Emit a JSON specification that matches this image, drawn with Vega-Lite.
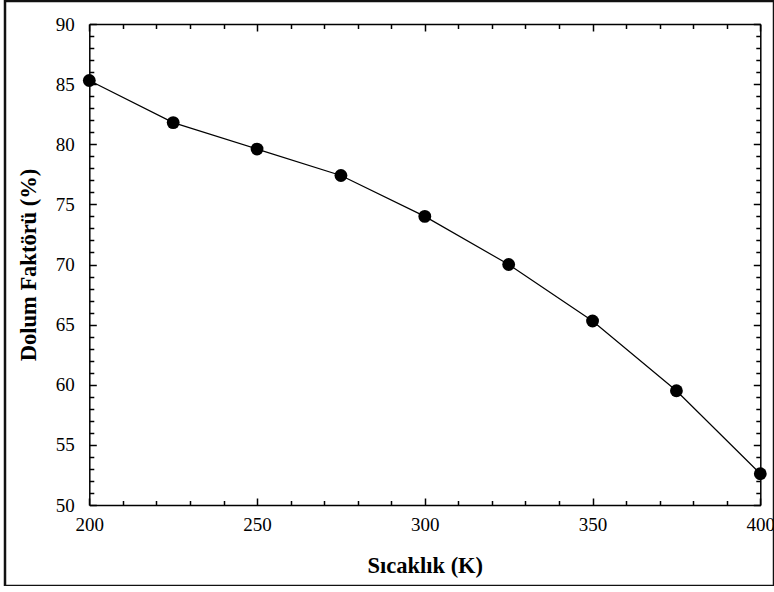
{
  "$schema": "https://vega.github.io/schema/vega-lite/v6.json",
  "autosize": "none",
  "padding": {"left": 5, "top": 1, "right": 0, "bottom": 0},
  "width": 769,
  "height": 585,
  "background": "white",
  "config": {
    "view": {"stroke": "#111111", "strokeWidth": 2.5},
    "font": "Liberation Serif",
    "axis": {
      "domainColor": "#000000",
      "domainWidth": 1.5,
      "tickColor": "#000000",
      "tickWidth": 1.5,
      "grid": false,
      "labelFont": "Liberation Serif",
      "labelFontSize": 19,
      "labelColor": "#000000",
      "titleFont": "Liberation Serif",
      "titleFontSize": 22.5,
      "titleFontWeight": "bold",
      "titleColor": "#000000"
    }
  },
  "data": {
    "values": [
      {"T": 200, "F": 85.3},
      {"T": 225, "F": 81.8},
      {"T": 250, "F": 79.6},
      {"T": 275, "F": 77.4},
      {"T": 300, "F": 74.0},
      {"T": 325, "F": 70.0},
      {"T": 350, "F": 65.3},
      {"T": 375, "F": 59.5},
      {"T": 400, "F": 52.6}
    ]
  },
  "resolve": {"axis": {"x": "independent", "y": "independent"}},
  "layer": [
    {
      "mark": {"type": "line", "color": "#000000", "strokeWidth": 1.2},
      "encoding": {
        "x": {
          "field": "T", "type": "quantitative",
          "scale": {"domain": [200, 400], "range": [84.3, 755.3], "nice": false, "zero": false},
          "axis": {
            "orient": "top", "offset": -23, "title": null, "labels": false,
            "values": [200, 210, 220, 230, 240, 250, 260, 270, 280, 290, 300, 310, 320, 330, 340, 350, 360, 370, 380, 390, 400],
            "tickSize": {"condition": {"test": "datum.value % 50 === 0", "value": -7}, "value": -4.5}
          }
        },
        "y": {
          "field": "F", "type": "quantitative",
          "scale": {"domain": [50, 90], "range": [504, 23], "nice": false, "zero": false},
          "axis": {
            "orient": "right", "offset": -13.7, "title": null, "labels": false,
            "values": [50, 51, 52, 53, 54, 55, 56, 57, 58, 59, 60, 61, 62, 63, 64, 65, 66, 67, 68, 69, 70, 71, 72, 73, 74, 75, 76, 77, 78, 79, 80, 81, 82, 83, 84, 85, 86, 87, 88, 89, 90],
            "tickSize": {"condition": {"test": "datum.value % 5 === 0", "value": -7}, "value": -4.5}
          }
        }
      }
    },
    {
      "mark": {"type": "point", "filled": true, "color": "#000000", "opacity": 1, "size": 165, "shape": "circle"},
      "encoding": {
        "x": {
          "field": "T", "type": "quantitative",
          "axis": {
            "orient": "bottom", "offset": -81, "title": "Sıcaklık (K)",
            "values": [200, 210, 220, 230, 240, 250, 260, 270, 280, 290, 300, 310, 320, 330, 340, 350, 360, 370, 380, 390, 400],
            "labelExpr": "datum.value % 50 === 0 ? datum.label : ''",
            "tickSize": {"condition": {"test": "datum.value % 50 === 0", "value": -7}, "value": -4.5},
            "labelPadding": 17,
            "labelFlush": false,
            "labelOverlap": false,
            "titlePadding": 18
          }
        },
        "y": {
          "field": "F", "type": "quantitative",
          "axis": {
            "orient": "left", "offset": -84.3, "title": "Dolum Faktörü (%)",
            "values": [50, 51, 52, 53, 54, 55, 56, 57, 58, 59, 60, 61, 62, 63, 64, 65, 66, 67, 68, 69, 70, 71, 72, 73, 74, 75, 76, 77, 78, 79, 80, 81, 82, 83, 84, 85, 86, 87, 88, 89, 90],
            "labelExpr": "datum.value % 5 === 0 ? datum.label : ''",
            "tickSize": {"condition": {"test": "datum.value % 5 === 0", "value": -7}, "value": -4.5},
            "labelPadding": 22,
            "labelFlush": false,
            "labelOverlap": false,
            "titlePadding": 15
          }
        }
      }
    }
  ]
}
